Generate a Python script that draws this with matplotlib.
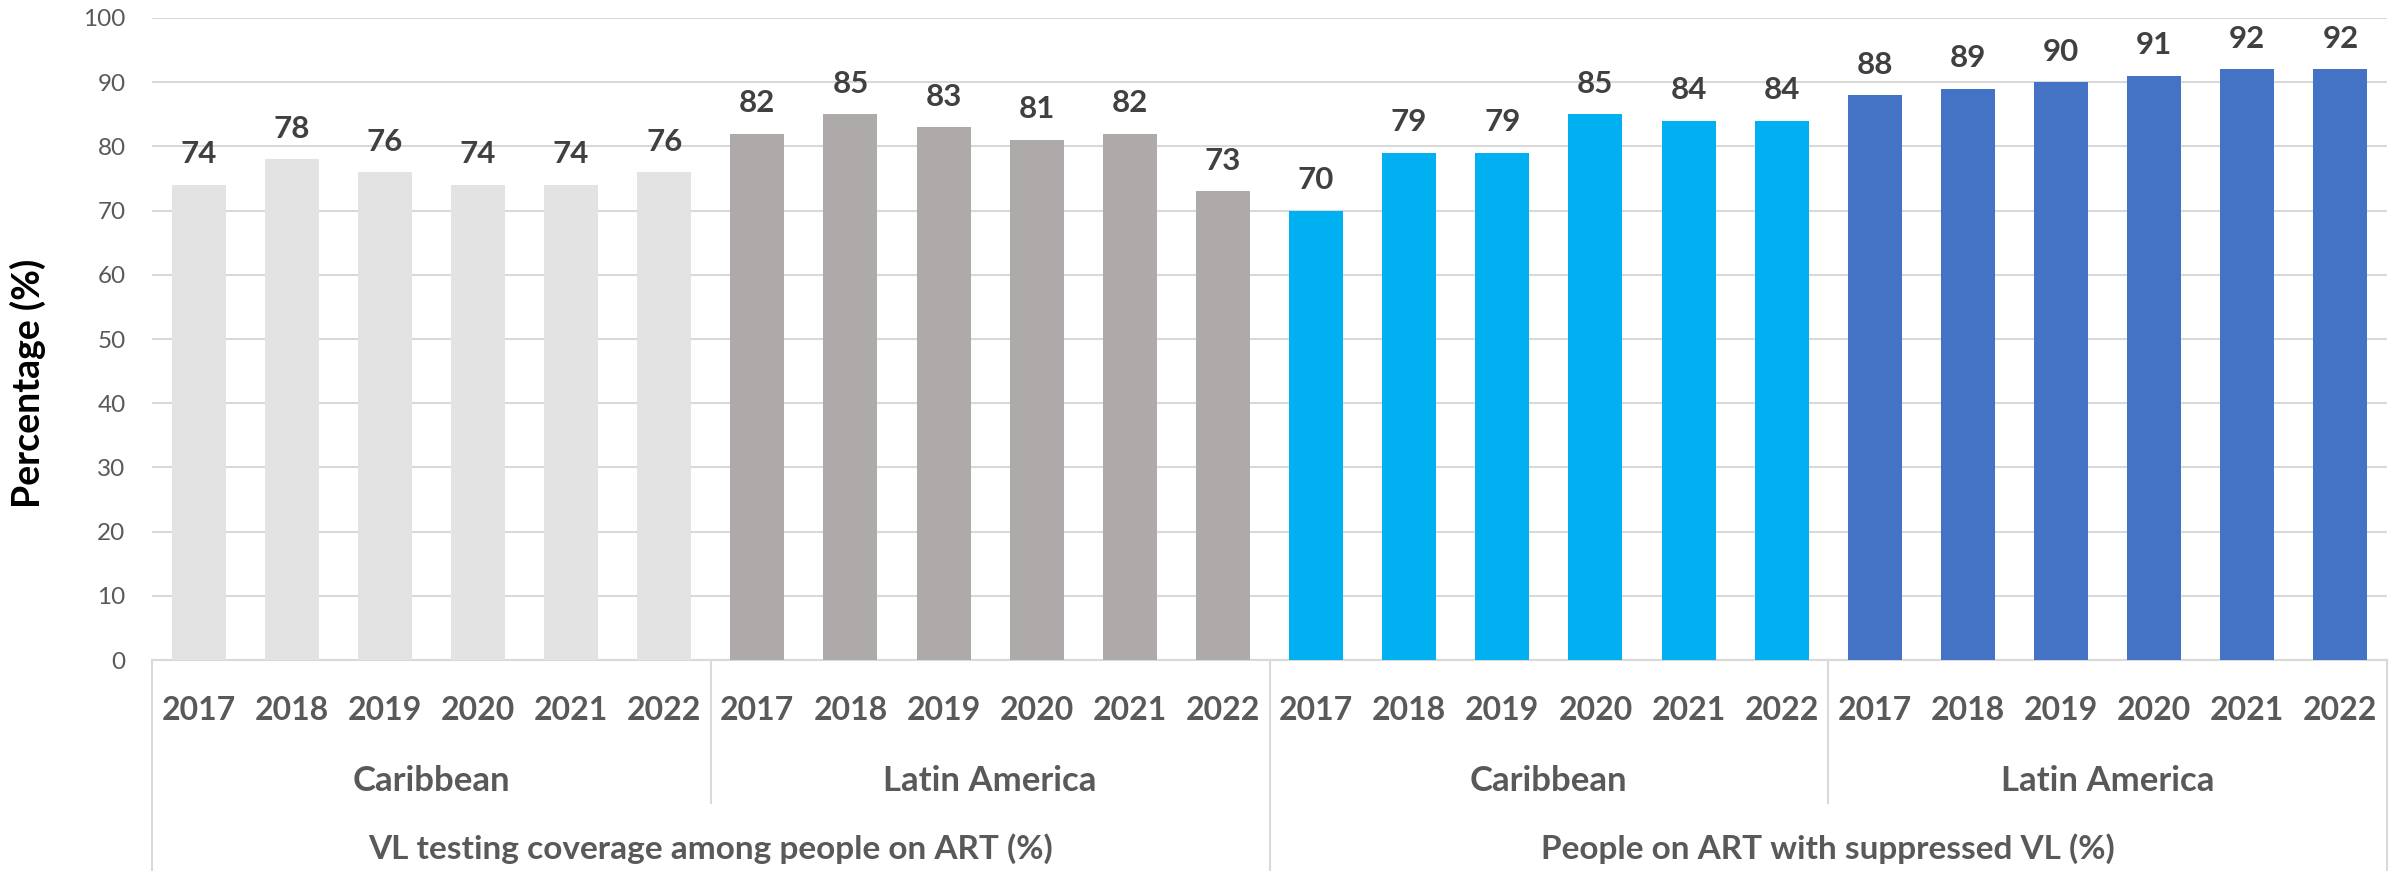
import matplotlib
matplotlib.use("Agg")
import matplotlib.pyplot as plt
from matplotlib.transforms import blended_transform_factory
import numpy as np

plt.rcParams['font.family'] = ['Lato', 'DejaVu Sans']

years = ["2017", "2018", "2019", "2020", "2021", "2022"]
regions = ["Caribbean", "Latin America"]
indicators = ["VL testing coverage among people on ART (%)",
              "People on ART with suppressed VL (%)"]

vl_testing_caribbean = [74, 78, 76, 74, 74, 76]
vl_testing_latam = [82, 85, 83, 81, 82, 73]
suppressed_caribbean = [70, 79, 79, 85, 84, 84]
suppressed_latam = [88, 89, 90, 91, 92, 92]

series = [vl_testing_caribbean, vl_testing_latam, suppressed_caribbean, suppressed_latam]
colors = ["#E3E3E3", "#AEAAAA", "#00B0F0", "#4472C4"]

W, H = 2407, 871
fig = plt.figure(figsize=(W / 100, H / 100), dpi=100)
ax = fig.add_axes([152 / W, 1 - 660 / H, (2387 - 152) / W, (660 - 18) / H])

grid_c = "#D9D9D9"
label_c = "#404040"
tick_c = "#595959"

pos = 0
for vals, col in zip(series, colors):
    x = np.arange(pos, pos + len(vals))
    ax.bar(x, vals, width=0.58, color=col, zorder=3)
    for xi, v in zip(x, vals):
        ax.annotate(f"{v}", (xi, v), xytext=(0, 15.5), textcoords="offset points",
                    ha="center", va="baseline", fontsize=22.5, fontweight="bold",
                    color=label_c)
    pos += len(vals)

n = pos
ax.set_xlim(-0.5, n - 0.5)
ax.set_ylim(0, 100)
ax.set_yticks(np.arange(0, 101, 10))
ax.tick_params(axis="y", length=0, labelsize=17.5, labelcolor=tick_c, pad=19)
ax.set_xticks([])
ax.yaxis.grid(True, color=grid_c, linewidth=1.5, zorder=0)
for s in ["top", "right", "left"]:
    ax.spines[s].set_visible(False)
ax.spines["bottom"].set_color(grid_c)
ax.spines["bottom"].set_linewidth(1.5)

fig.text(28 / W, 1 - 383 / H, "Percentage (%)", rotation=90, ha="center", va="center",
         fontsize=27, fontweight="bold", color="black")

tr = blended_transform_factory(ax.transData, fig.transFigure)
y_year = 1 - 710 / H
y_region = 1 - 781 / H
y_ind = 1 - 849 / H
y_axis = 1 - 660 / H
y_regline = 1 - 803 / H

for i in range(n):
    fig.text(i, y_year, years[i % len(years)], transform=tr, ha="center", va="center",
             fontsize=23, fontweight="bold", color=tick_c)

ny = len(years)
for r in range(len(indicators) * len(regions)):
    cx = r * ny + (ny - 1) / 2
    fig.text(cx, y_region, regions[r % len(regions)], transform=tr, ha="center",
             va="center", fontsize=25, fontweight="bold", color=tick_c)

ng = ny * len(regions)
for g, name in enumerate(indicators):
    cx = g * ng + (ng - 1) / 2
    fig.text(cx, y_ind, name, transform=tr, ha="center", va="center",
             fontsize=24, fontweight="bold", color=tick_c)

# separator lines
for r in range(1, len(indicators) * len(regions)):
    if r % len(regions) != 0:
        xs = r * ny - 0.5
        ax.plot([xs, xs], [y_axis, y_regline], transform=tr, color=grid_c,
                linewidth=1.5, clip_on=False)
for g in range(len(indicators) + 1):
    xs = g * ng - 0.5
    ax.plot([xs, xs], [y_axis, 0], transform=tr, color=grid_c,
            linewidth=1.5, clip_on=False)

fig.savefig("out.png", dpi=100)
